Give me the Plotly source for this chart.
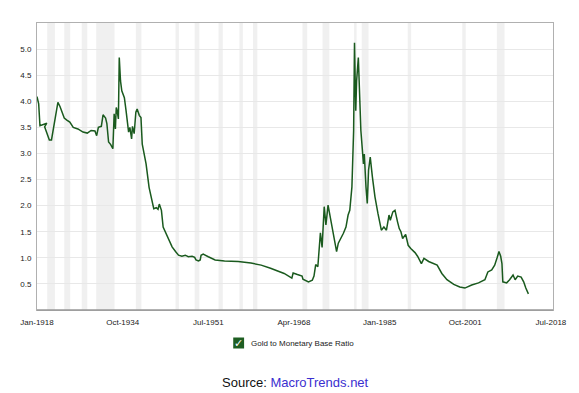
import plotly.graph_objects as go
import pandas as pd

# ---- data (decimal year, ratio) ----
years = [1918.0, 1918.3, 1918.6, 1918.97, 1919.5, 1919.9, 1920.4, 1920.8, 1921.2, 1921.7,
         1922.05, 1922.5, 1922.9, 1923.3, 1923.8, 1924.4, 1925.1, 1926.0, 1927.0, 1927.8,
         1928.6, 1929.3, 1929.7, 1930.0, 1930.6, 1930.9, 1931.4, 1931.7, 1932.0, 1932.4,
         1932.8, 1933.0, 1933.1, 1933.3, 1933.5, 1933.7, 1933.9, 1934.1, 1934.3, 1934.6,
         1935.1, 1935.4, 1935.9, 1936.2, 1936.5, 1936.7, 1937.0, 1937.3, 1937.6, 1938.0,
         1938.3, 1938.6, 1939.3, 1939.9, 1940.4, 1940.5, 1940.8, 1941.3, 1941.7, 1941.95,
         1942.3, 1942.65, 1943.1, 1943.75, 1944.4, 1945.05, 1945.7, 1946.3, 1947.0, 1947.6,
         1948.3, 1948.8, 1949.1, 1949.6, 1949.9, 1950.1, 1950.5, 1951.5, 1952.8, 1954.7,
         1957.3, 1959.85, 1961.8, 1963.7, 1966.3, 1967.8, 1968.1, 1968.9, 1969.5, 1969.8,
         1970.0, 1970.5, 1971.1, 1971.8, 1972.2, 1972.5, 1972.9, 1973.4, 1973.75, 1974.15,
         1974.5, 1974.9, 1975.3, 1976.0, 1976.6, 1976.9, 1977.4, 1977.9, 1978.4, 1978.85,
         1979.2, 1979.6, 1979.9, 1980.1, 1980.3, 1980.5, 1980.8, 1981.0, 1981.3, 1981.8,
         1982.0, 1982.3, 1982.6, 1982.8, 1983.2, 1983.6, 1984.1, 1984.7, 1985.3, 1985.8,
         1986.3, 1986.8, 1987.1, 1987.55, 1988.0, 1988.5, 1988.8, 1989.2, 1989.5, 1990.1,
         1990.6, 1991.1, 1991.4, 1991.9, 1992.4, 1993.2, 1993.7, 1994.6, 1996.25, 1997.2,
         1998.2, 1999.5, 2000.7, 2001.7, 2003.0, 2004.3, 2005.6, 2006.2, 2006.9, 2007.5,
         2008.0, 2008.3, 2008.7, 2008.9, 2009.1, 2009.8, 2010.4, 2011.05, 2011.5, 2012.0,
         2012.7, 2013.2, 2013.6, 2014.1]
ratio = [4.09, 3.95, 3.53, 3.58, 3.51, 3.38, 3.26, 3.26, 3.47, 3.76,
         3.98, 3.90, 3.79, 3.68, 3.64, 3.60, 3.50, 3.47, 3.41, 3.39,
         3.44, 3.43, 3.34, 3.50, 3.52, 3.74, 3.68, 3.57, 3.22, 3.17,
         3.09, 3.47, 3.76, 3.47, 3.88, 3.82, 3.66, 4.84, 4.39, 4.20,
         4.07, 3.82, 3.41, 3.50, 3.28, 3.52, 3.38, 3.79, 3.85, 3.73,
         3.69, 3.18, 2.80, 2.35, 2.14, 2.07, 1.94, 1.96, 1.93, 2.03,
         1.91, 1.59, 1.50, 1.34, 1.21, 1.12, 1.05, 1.03, 1.05, 1.02,
         1.03, 1.01, 0.96, 0.94, 0.96, 1.05, 1.07, 1.02, 0.96, 0.94,
         0.93, 0.90, 0.86, 0.80, 0.70, 0.61, 0.71, 0.68, 0.67, 0.65,
         0.59, 0.57, 0.54, 0.57, 0.65, 0.87, 0.83, 1.48, 1.20, 1.98,
         1.63, 2.01, 1.78, 1.37, 1.12, 1.28, 1.37, 1.47, 1.59, 1.82,
         1.91, 2.36, 3.44, 5.12, 3.82, 4.39, 4.84, 4.33, 3.44, 2.80,
         2.99, 2.36, 2.04, 2.68, 2.93, 2.55, 2.17, 1.85, 1.53, 1.59,
         1.53, 1.82, 1.72, 1.88, 1.91, 1.69, 1.56, 1.50, 1.37, 1.45,
         1.24, 1.18, 1.15, 1.10, 1.03, 0.89, 0.99, 0.93, 0.86, 0.70,
         0.58, 0.49, 0.44, 0.42, 0.48, 0.52, 0.58, 0.73, 0.77, 0.86,
         1.01, 1.12, 1.03, 0.89, 0.54, 0.52, 0.58, 0.67, 0.58, 0.65,
         0.63, 0.54, 0.42, 0.31]

# NBER recessions (start, end)
recession_start = ["1920-01-01", "1923-05-01", "1926-10-01", "1929-08-01", "1937-05-01",
                   "1945-02-01", "1948-11-01", "1953-07-01", "1957-08-01", "1960-04-01",
                   "1969-12-01", "1973-11-01", "1980-01-01", "1981-07-01", "1990-07-01",
                   "2001-03-01", "2007-12-01"]
recession_end = ["1921-07-01", "1924-07-01", "1927-11-01", "1933-03-01", "1938-06-01",
                 "1945-10-01", "1949-10-01", "1954-05-01", "1958-04-01", "1961-02-01",
                 "1970-11-01", "1975-03-01", "1980-07-01", "1982-11-01", "1991-03-01",
                 "2001-11-01", "2009-06-01"]

x_tick_vals = ["1918-01-01", "1934-10-01", "1951-07-01", "1968-04-01",
               "1985-01-01", "2001-10-01", "2018-07-01"]
x_tick_text = ["Jan-1918", "Oct-1934", "Jul-1951", "Apr-1968",
               "Jan-1985", "Oct-2001", "Jul-2018"]
y_tick_vals = [0.5, 1.0, 1.5, 2.0, 2.5, 3.0, 3.5, 4.0, 4.5, 5.0]


def to_date(y):
    yr = int(y)
    m = int(round((y - yr) * 12))
    if m >= 12:
        yr, m = yr + 1, 11
    return pd.Timestamp(year=yr, month=m + 1, day=1)


dates = [to_date(v) for v in years]

GREEN = "#1a5a1e"
fig = go.Figure()
fig.add_trace(go.Scatter(x=dates, y=ratio, mode="lines",
                         line=dict(color=GREEN, width=1.5),
                         name="Gold to Monetary Base Ratio", showlegend=False))

shapes = []
for s, e in zip(recession_start, recession_end):
    shapes.append(dict(type="rect", xref="x", yref="paper", x0=s, x1=e, y0=0, y1=1,
                       fillcolor="#f0f0f0", line=dict(width=0), layer="below"))
# darker bottom axis line
shapes.append(dict(type="line", xref="paper", yref="paper", x0=0, x1=1, y0=0, y1=0,
                   line=dict(color="#999999", width=1.5)))
# legend checkbox
shapes.append(dict(type="rect", xref="paper", yref="paper",
                   x0=(235.5 - 37) / 522, x1=(246.5 - 37) / 522,
                   y0=(310 - 348.5) / 287, y1=(310 - 337.5) / 287,
                   fillcolor="#1e5e22", line=dict(width=0)))

annotations = [
    dict(text="✓", xref="paper", yref="paper", x=(241 - 37) / 522, y=(310 - 343) / 287,
         showarrow=False, font=dict(color="white", size=11, family="DejaVu Sans"),
         xanchor="center", yanchor="middle"),
    dict(text="Gold to Monetary Base Ratio", xref="paper", yref="paper",
         x=(251 - 37) / 522, y=(310 - 343) / 287, showarrow=False,
         font=dict(color="#222222", size=8, family="Arial, Liberation Sans"),
         xanchor="left", yanchor="middle"),
    dict(text="Source: <span style='color:#3a2fd0'>MacroTrends.net</span>",
         xref="paper", yref="paper", x=(298 - 37) / 522, y=(310 - 382) / 287,
         showarrow=False, font=dict(color="#111111", size=13, family="Arial, Liberation Sans"),
         xanchor="center", yanchor="middle"),
]

fig.update_layout(
    width=579, height=393,
    margin=dict(l=37, r=20, t=23, b=83),
    paper_bgcolor="white", plot_bgcolor="white",
    shapes=shapes, annotations=annotations,
    font=dict(family="Arial, Liberation Sans", size=8, color="#222222"),
)
fig.update_xaxes(type="date", range=["1918-01-01", "2018-11-25"],
                 tickvals=x_tick_vals, ticktext=x_tick_text,
                 showgrid=False, zeroline=False,
                 showline=True, linecolor="#b0b0b0", linewidth=1, mirror=True,
                 ticks="outside", ticklen=4, tickcolor="rgba(0,0,0,0)",
                 tickfont=dict(size=8, color="#222222"))
fig.update_yaxes(range=[0, 5.5], tickvals=y_tick_vals, tickformat=".1f",
                 showgrid=True, gridcolor="#e8e8e8", gridwidth=1, zeroline=False,
                 showline=True, linecolor="#b0b0b0", linewidth=1, mirror=True,
                 ticks="outside", ticklen=3, tickcolor="rgba(0,0,0,0)",
                 tickfont=dict(size=8, color="#222222"))

fig.write_html("out.html")
